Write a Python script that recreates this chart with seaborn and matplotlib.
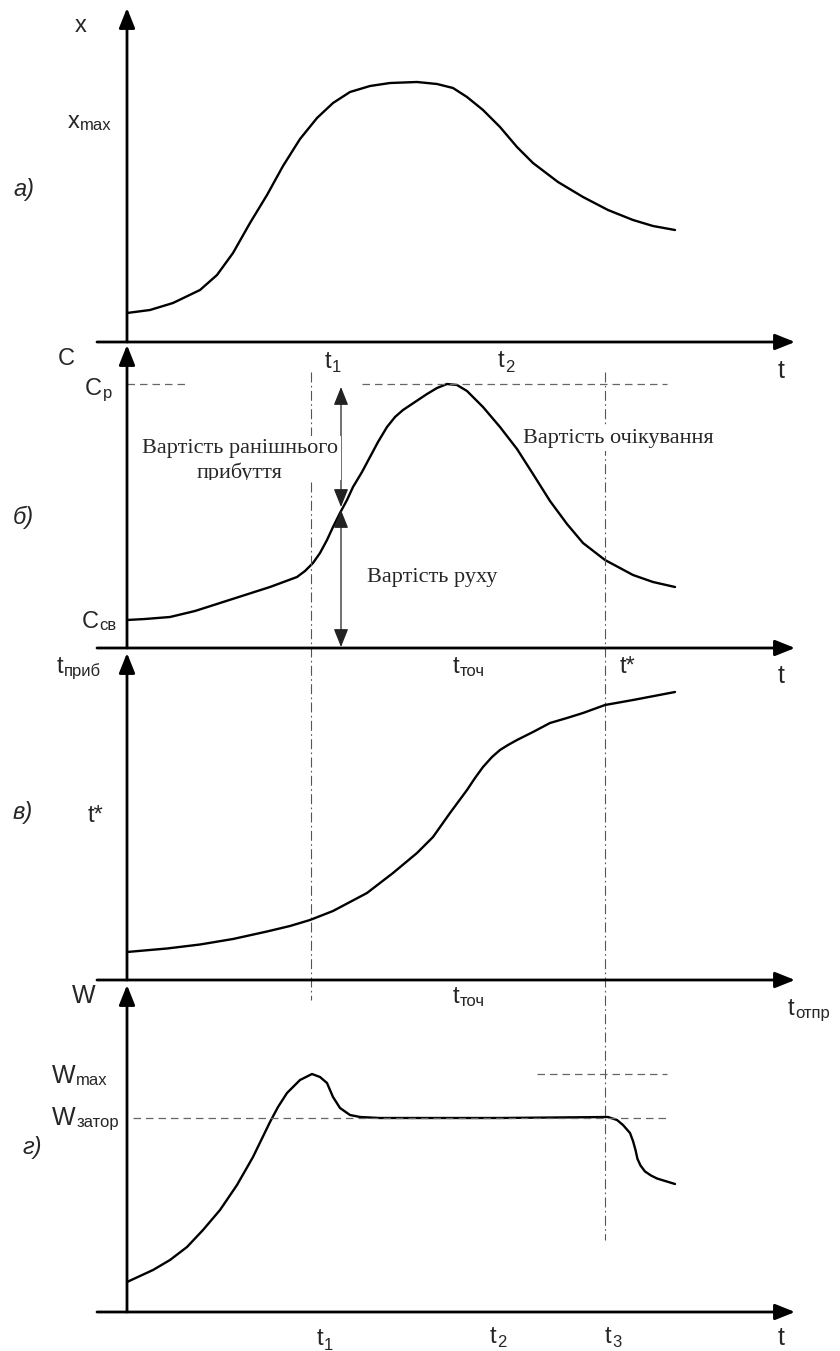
import matplotlib
matplotlib.use('Agg')
import matplotlib.pyplot as plt
import seaborn as sns
from matplotlib.transforms import Bbox, TransformedBbox

sns.set_style('white')
plt.rcParams['font.family'] = ['Liberation Sans', 'DejaVu Sans']

# --- data (t in common units, values per panel) ---
# a) flow x(t)
t_a = [0.00, 0.46, 0.92, 1.46, 1.80, 2.12, 2.46, 2.80, 3.12, 3.46, 3.80, 4.12, 4.46,
       4.86, 5.26, 5.80, 6.20, 6.52, 6.80, 7.12, 7.46, 7.80, 8.12, 8.62, 9.12, 9.62,
       10.12, 10.52, 10.96]
x_a = [0.58, 0.64, 0.78, 1.04, 1.34, 1.78, 2.38, 2.94, 3.52, 4.06, 4.48, 4.78, 5.00,
       5.12, 5.18, 5.20, 5.16, 5.08, 4.90, 4.64, 4.30, 3.90, 3.58, 3.20, 2.90, 2.64,
       2.44, 2.32, 2.24]

# б) cost C(t)
t_b = [0.00, 0.36, 0.86, 1.36, 1.86, 2.36, 2.86, 3.40, 3.56, 3.72, 3.86, 4.00, 4.12,
       4.26, 4.40, 4.52, 4.70, 4.86, 5.02, 5.20, 5.36, 5.52, 5.76, 6.00, 6.20, 6.40,
       6.60, 6.80, 7.12, 7.46, 7.80, 8.12, 8.46, 8.80, 9.12, 9.56, 10.12, 10.52, 10.96]
c_b = [0.56, 0.58, 0.62, 0.74, 0.90, 1.06, 1.22, 1.42, 1.54, 1.70, 1.90, 2.16, 2.42,
       2.70, 2.96, 3.22, 3.52, 3.82, 4.12, 4.42, 4.62, 4.76, 4.92, 5.08, 5.20, 5.28,
       5.26, 5.14, 4.82, 4.42, 3.98, 3.48, 2.94, 2.48, 2.10, 1.76, 1.46, 1.32, 1.22]

# в) arrival time t_приб(t)
t_c = [0.00, 0.80, 1.46, 2.12, 2.80, 3.26, 3.66, 4.12, 4.80, 5.32, 5.80, 6.12, 6.46,
       6.80, 6.96, 7.12, 7.30, 7.46, 7.62, 7.80, 8.12, 8.46, 8.80, 9.12, 9.56, 10.12,
       10.96]
a_c = [0.56, 0.63, 0.71, 0.82, 0.97, 1.08, 1.20, 1.38, 1.74, 2.14, 2.54, 2.86, 3.34,
       3.80, 4.04, 4.26, 4.46, 4.60, 4.70, 4.80, 4.96, 5.14, 5.24, 5.34, 5.50, 5.60,
       5.76]

# г) flow W(t)
t_d = [0.00, 0.52, 0.86, 1.20, 1.52, 1.86, 2.20, 2.52, 2.86, 3.02, 3.20, 3.46, 3.70,
       3.86, 4.00, 4.12, 4.26, 4.46, 4.66, 5.06, 7.46, 9.62, 9.80, 9.92, 10.06, 10.12,
       10.17, 10.21, 10.27, 10.36, 10.48, 10.60, 10.96]
w_d = [0.60, 0.84, 1.04, 1.30, 1.64, 2.04, 2.54, 3.10, 3.80, 4.10, 4.38, 4.64, 4.76,
       4.70, 4.58, 4.30, 4.08, 3.94, 3.90, 3.88, 3.88, 3.90, 3.84, 3.74, 3.58, 3.42,
       3.24, 3.06, 2.93, 2.81, 2.73, 2.67, 2.56]

# reference levels / moments
C_p = 5.28
W_max = 4.76
W_zator = 3.88
t1 = 3.68
t_star = 9.56
t_arrow = 4.28

# --- layout: four stacked panels, 50 px per unit ---
W, H = 840, 1351
U = 50
X0 = 127
fig = plt.figure(figsize=(8.4, 13.51), dpi=100)
panels = [(0, 342, 342), (342, 648, 648), (648, 980, 980), (980, 1351, 1312)]
axs = []
for top, bot, axis_px in panels:
    ax = fig.add_axes([0, 1 - bot / H, 1, (bot - top) / H])
    ax.set_xlim(-X0 / U, (W - X0) / U)
    ax.set_ylim((axis_px - bot) / U, (axis_px - top) / U)
    ax.axis('off')
    axs.append(ax)


def axis_arrow(ax, x0, y0, x1, y1):
    ax.annotate('', xy=(x1, y1), xytext=(x0, y0), annotation_clip=False,
                arrowprops=dict(arrowstyle='-|>,head_length=0.55,head_width=0.22',
                                lw=2, color='black', shrinkA=0, shrinkB=0,
                                mutation_scale=22))


y_tops = [6.68, 6.06, 6.54, 6.54]
for ax, ytop in zip(axs, y_tops):
    axis_arrow(ax, -0.6, 0, 13.36, 0)
    axis_arrow(ax, 0, 0, 0, ytop)

# curves
curves = [(t_a, x_a), (t_b, c_b), (t_c, a_c), (t_d, w_d)]
for ax, (tt, vv) in zip(axs, curves):
    sns.lineplot(x=tt, y=vv, ax=ax, color='black', lw=1.7, sort=False,
                 estimator=None, clip_on=False, solid_joinstyle='round',
                 solid_capstyle='round')

# vertical dash-dot lines (drawn from panel б across lower panels)
dd = (0, (9, 3, 1.5, 3))
axs[1].plot([t1, t1], [5.52, -7.04], color='#555555', lw=0.8, ls=dd, clip_on=False)
axs[1].plot([t_star, t_star], [5.52, -11.84], color='#555555', lw=0.8, ls=dd,
            clip_on=False)

# horizontal dashed levels
dash = (0, (6, 4))
axs[1].plot([0, 1.16], [C_p, C_p], color='#666666', lw=0.9, ls=dash)
axs[1].plot([4.7, 10.8], [C_p, C_p], color='#666666', lw=0.9, ls=dash)
axs[3].plot([0.12, 10.8], [W_zator, W_zator], color='#666666', lw=0.9, ls=dash)
axs[3].plot([8.2, 10.8], [W_max, W_max], color='#666666', lw=0.9, ls=dash)

# double arrows in panel б
darrow = dict(arrowstyle='<|-|>,head_length=0.7,head_width=0.28', lw=0.9,
              color='#222222', shrinkA=0, shrinkB=0, mutation_scale=16)
axs[1].annotate('', xy=(t_arrow, 5.22), xytext=(t_arrow, 2.82), arrowprops=darrow)
axs[1].annotate('', xy=(t_arrow, 2.76), xytext=(t_arrow, 0.02), arrowprops=darrow)

renderer = fig.canvas.get_renderer()


# --- texts (pixel positions, baseline aligned) ---
def ftext(x, y, s, size=17, **kw):
    return fig.text(x / W, 1 - y / H, s, fontsize=size, va='baseline', ha='left', **kw)


def sublabel(xb, yb, base, dy, sub, size=17, subsize=12):
    b = ftext(xb, yb, base, size=size)
    x1 = b.get_window_extent(renderer=renderer).x1
    ftext(x1 + 0.5, yb + dy, sub, size=subsize)


# y labels
ftext(75, 32, 'x')
sublabel(68, 128, 'x', 2, 'max')
ftext(58, 365, 'C')
sublabel(85, 395, 'C', 3, 'p')
sublabel(82, 628, 'C', 2, 'св')
sublabel(57, 673, 't', 3, 'приб')
ftext(88, 822, 't*')
ftext(72, 1003, 'W', size=18)
sublabel(52, 1083, 'W', 2, 'max', size=18)
sublabel(52, 1125, 'W', 2, 'затор', size=18)

# panel letters
for xl, yl, s in [(13, 196, 'а)'), (13, 524, 'б)'), (13, 819, 'в)'), (22, 1154, 'г)')]:
    ftext(xl, yl, s, size=17, style='italic')

# x labels
sublabel(325, 368, 't', 4, '1')
sublabel(498, 367, 't', 5, '2')
ftext(778, 378, 't', size=18)
sublabel(453, 673, 't', 3, 'точ')
ftext(620, 673, 't*')
ftext(778, 683, 't', size=18)
sublabel(453, 1003, 't', 3, 'точ')
sublabel(788, 1015, 't', 3, 'отпр')
sublabel(317, 1345, 't', 5, '1')
sublabel(490, 1343, 't', 4, '2')
sublabel(605, 1343, 't', 4, '3')
ftext(778, 1345, 't', size=18)

# annotations (serif)
serif = ['Liberation Serif', 'DejaVu Serif']
box = dict(facecolor='white', edgecolor='none', pad=2)
early = fig.text(240 / W, 1 - 478 / H, 'Вартість ранішнього\nприбуття', fontsize=16,
                 family=serif, ha='center', va='baseline', linespacing=1.3,
                 bbox=box, multialignment='center')
early.set_clip_box(TransformedBbox(Bbox.from_extents(0, 1 - 480 / H, 1, 1),
                                   fig.transFigure))
ftext(523, 443, 'Вартість очікування', size=16, family=serif, bbox=box)
ftext(367, 582, 'Вартість руху', size=16, family=serif, bbox=box)

fig.savefig('out.png', dpi=100)
